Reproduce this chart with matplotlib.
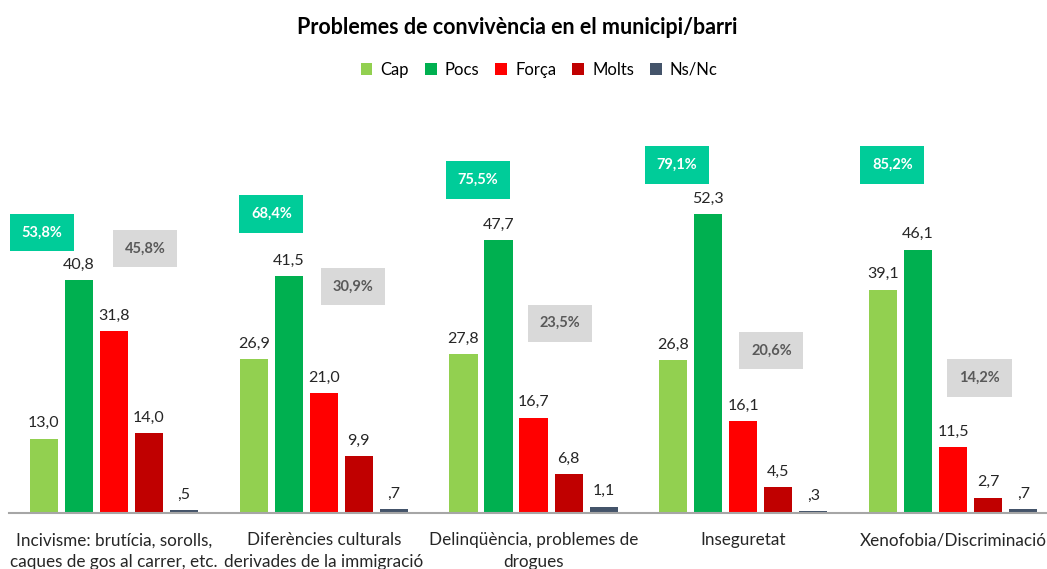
import matplotlib.pyplot as plt
import numpy as np

plt.rcParams['font.family'] = ['Lato', 'DejaVu Sans']

categories = ['Incivisme: brutícia, sorolls,\ncaques de gos al carrer, etc.',
              'Diferències culturals\nderivades de la immigració',
              'Delinqüència, problemes de\ndrogues',
              'Inseguretat',
              'Xenofobia/Discriminació']
series = ['Cap', 'Pocs', 'Força', 'Molts', 'Ns/Nc']
cap = [13.0, 26.9, 27.8, 26.8, 39.1]
pocs = [40.8, 41.5, 47.7, 52.3, 46.1]
forca = [31.8, 21.0, 16.7, 16.1, 11.5]
molts = [14.0, 9.9, 6.8, 4.5, 2.7]
nsnc = [0.5, 0.7, 1.1, 0.3, 0.7]

colors = ['#92D050', '#00B050', '#FF0000', '#C00000', '#44546A']

# where the summary boxes sit (x offset in category units, y in data units)
green_dx = [-0.343, -0.25, -0.265, -0.317, -0.289]
green_y = [49.1, 52.3, 58.3, 60.9, 60.9]
grey_dx = [0.148, 0.141, 0.124, 0.134, 0.126]
grey_y = [46.3, 39.6, 33.2, 28.4, 23.6]


def fmt(v):
    s = f'{v:.1f}'.replace('.', ',')
    if s.startswith('0'):
        s = s[1:]
    return s


fig = plt.figure(figsize=(10.47, 5.69), dpi=100)
ax = fig.add_axes([9.15 / 1047, 56 / 569, 1048.8 / 1047, 400 / 569])

x = np.arange(len(categories))
step = 0.167
width = 0.134
data = [cap, pocs, forca, molts, nsnc]
for i, (name, vals) in enumerate(zip(series, data)):
    pos = x + (i - 2) * step
    ax.bar(pos, vals, width, color=colors[i], label=name, zorder=2)
    for px, v in zip(pos, vals):
        ax.annotate(fmt(v), (px, v), xytext=(0, 6), textcoords='offset points',
                    ha='center', va='bottom', fontsize=11.5, color='#262626')

for i in range(len(categories)):
    ax.text(x[i] + green_dx[i], green_y[i], fmt(cap[i] + pocs[i]) + '%',
            ha='center', va='center', fontsize=10.5, fontweight='bold', color='white',
            bbox=dict(boxstyle='square,pad=0.8', fc='#00CC99', ec='none'))
    ax.text(x[i] + grey_dx[i], grey_y[i], fmt(forca[i] + molts[i]) + '%',
            ha='center', va='center', fontsize=10.5, fontweight='bold', color='#595959',
            bbox=dict(boxstyle='square,pad=0.8', fc='#D9D9D9', ec='none'))

ax.set_xlim(-0.5, len(categories) - 0.5)
ax.set_ylim(0, 70)
ax.set_xticks(x)
ax.set_xticklabels(categories, fontsize=12.3, color='#262626', linespacing=1.4)
ax.tick_params(axis='x', length=0, pad=14)
ax.set_yticks([])
for side in ['top', 'right', 'left']:
    ax.spines[side].set_visible(False)
ax.spines['bottom'].set_color('#A6A6A6')
ax.spines['bottom'].set_linewidth(1.5)

fig.text(0.494, 0.951, 'Problemes de convivència en el municipi/barri',
         ha='center', va='center', fontsize=15.5, fontweight='bold', color='black')
fig.legend(loc='center', bbox_to_anchor=(0.515, 0.877), ncol=5, frameon=False,
           fontsize=12, handlelength=0.7, handleheight=0.7, handletextpad=0.5,
           columnspacing=0.95)

fig.savefig('out.png', dpi=100)
